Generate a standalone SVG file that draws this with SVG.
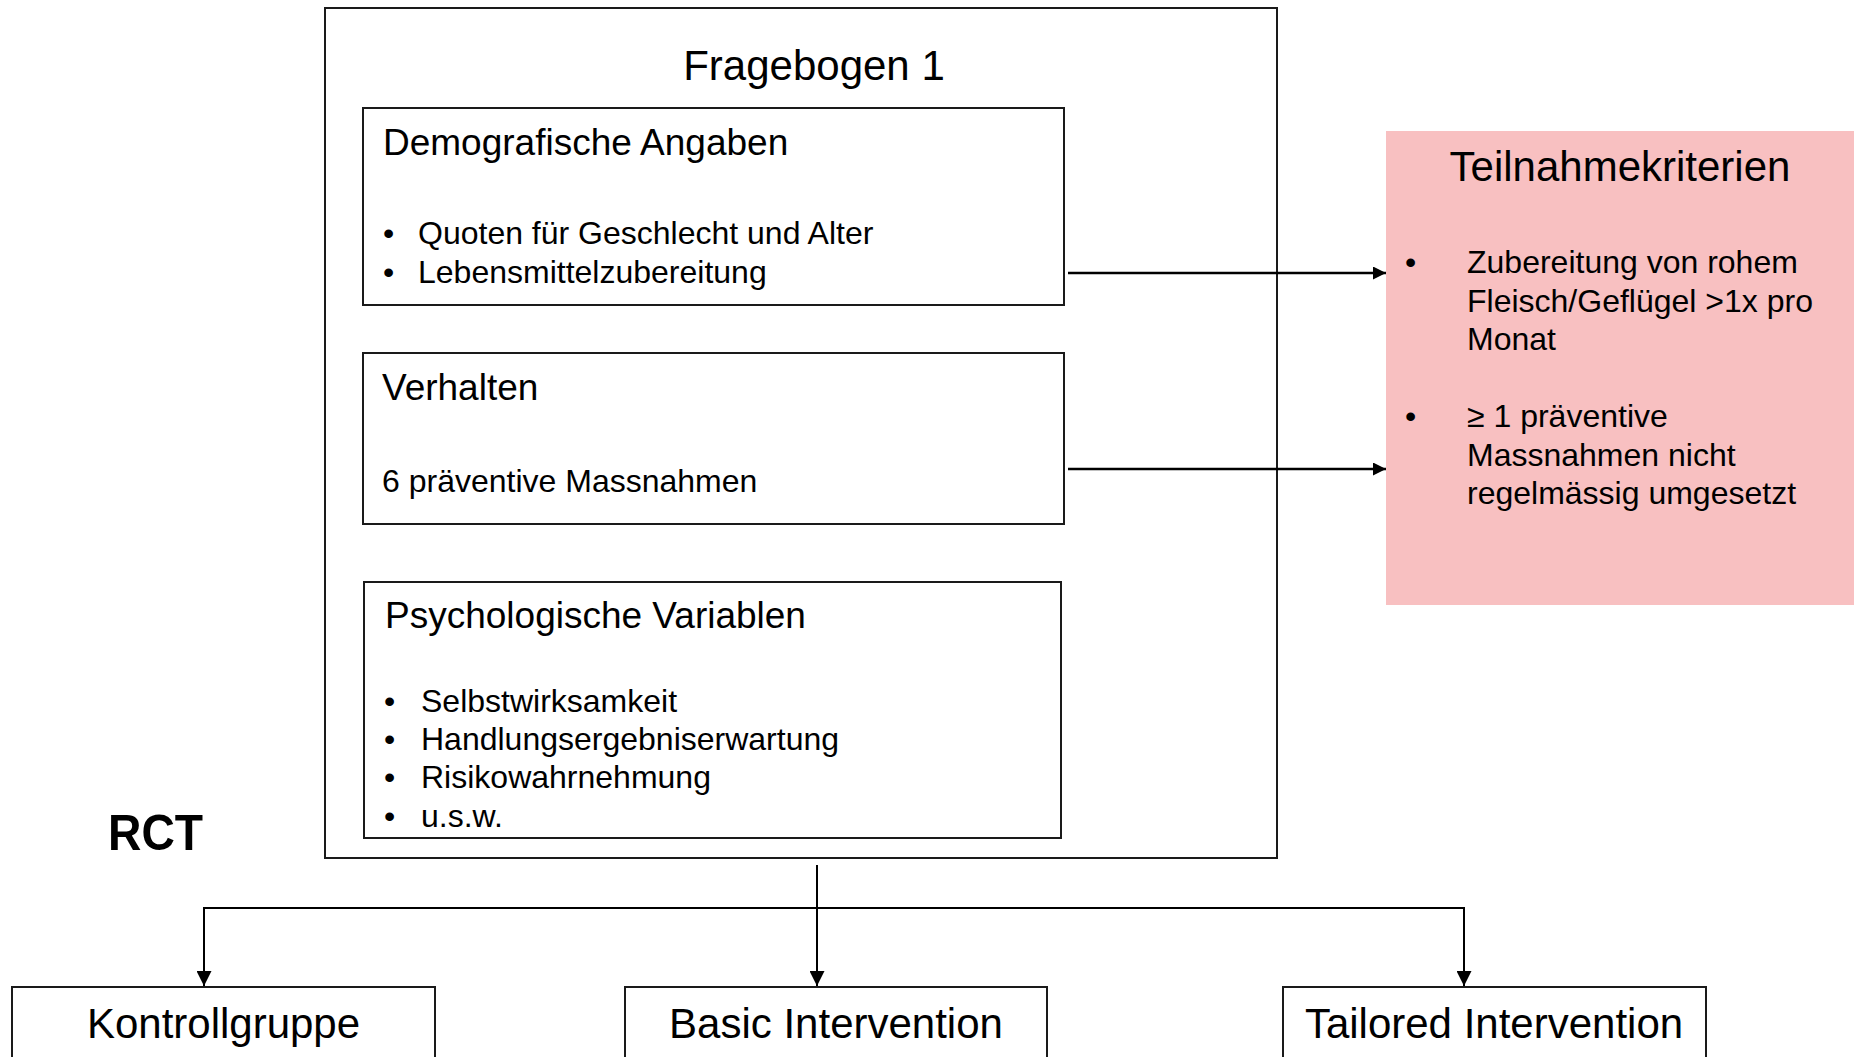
<svg xmlns="http://www.w3.org/2000/svg" width="1854" height="1057" viewBox="0 0 1854 1057">
<defs>
<style>
text{font-family:"Liberation Sans",Arial,sans-serif;fill:#000}
.box{fill:#fff;stroke:#1a1a1a;stroke-width:2}
.h42{font-size:42px}
.h37{font-size:37px}
.t32{font-size:32px}
.conn{fill:none;stroke:#000;stroke-width:2}
.conn2{fill:none;stroke:#000;stroke-width:2.6}
</style>
<marker id="arr" viewBox="0 0 10 10" refX="10" refY="5" markerWidth="6" markerHeight="5" markerUnits="strokeWidth" orient="auto">
<path d="M0,0 L10,5 L0,10 z" fill="#000"/>
</marker>
<marker id="arrs" viewBox="0 0 10 10" refX="10" refY="5" markerWidth="7.5" markerHeight="7.5" markerUnits="strokeWidth" orient="auto">
<path d="M0,0 L10,5 L0,10 z" fill="#000"/>
</marker>
</defs>
<rect width="1854" height="1057" fill="#fff"/>

<g id="fragebogen">
<rect class="box" x="325" y="8" width="952" height="850"/>
<text class="h42" x="814" y="80" text-anchor="middle">Fragebogen 1</text>
</g>

<g id="demografie">
<rect class="box" x="363" y="108" width="701" height="197"/>
<text class="h37" x="383" y="155">Demografische Angaben</text>
<text class="t32" x="383" y="244">•</text>
<text class="t32" x="418" y="244">Quoten für Geschlecht und Alter</text>
<text class="t32" x="383" y="283">•</text>
<text class="t32" x="418" y="283">Lebensmittelzubereitung</text>
</g>

<g id="verhalten">
<rect class="box" x="363" y="353" width="701" height="171"/>
<text class="h37" x="382" y="400">Verhalten</text>
<text class="t32" x="382" y="492">6 präventive Massnahmen</text>
</g>

<g id="psychologie">
<rect class="box" x="364" y="582" width="697" height="256"/>
<text class="h37" x="385" y="628">Psychologische Variablen</text>
<text class="t32" x="384" y="712">•</text>
<text class="t32" x="421" y="712">Selbstwirksamkeit</text>
<text class="t32" x="384" y="750">•</text>
<text class="t32" x="421" y="750">Handlungsergebniserwartung</text>
<text class="t32" x="384" y="788">•</text>
<text class="t32" x="421" y="788">Risikowahrnehmung</text>
<text class="t32" x="384" y="827">•</text>
<text class="t32" x="421" y="827">u.s.w.</text>
</g>

<g id="teilnahmekriterien">
<rect x="1386" y="131" width="468" height="474" fill="#F8C0C1"/>
<text class="h42" x="1620" y="181" text-anchor="middle">Teilnahmekriterien</text>
<text class="t32" x="1405" y="273">•</text>
<text class="t32" x="1467" y="273">Zubereitung von rohem</text>
<text class="t32" x="1467" y="312">Fleisch/Geflügel &gt;1x pro</text>
<text class="t32" x="1467" y="350">Monat</text>
<text class="t32" x="1405" y="427">•</text>
<text class="t32" x="1467" y="427">≥ 1 präventive</text>
<text class="t32" x="1467" y="466">Massnahmen nicht</text>
<text class="t32" x="1467" y="504">regelmässig umgesetzt</text>
</g>

<g id="rct">
<text x="108" y="850" font-size="50" font-weight="bold" textLength="95" lengthAdjust="spacingAndGlyphs">RCT</text>
</g>

<g id="kontrollgruppe">
<rect class="box" x="12" y="987" width="423" height="90"/>
<text class="h42" x="223.5" y="1038" text-anchor="middle">Kontrollgruppe</text>
</g>

<g id="basic">
<rect class="box" x="625" y="987" width="422" height="90"/>
<text class="h42" x="836" y="1038" text-anchor="middle">Basic Intervention</text>
</g>

<g id="tailored">
<rect class="box" x="1283" y="987" width="423" height="90"/>
<text class="h42" x="1494" y="1038" text-anchor="middle">Tailored Intervention</text>
</g>

<g id="connectors">
<line class="conn2" x1="1068" y1="273" x2="1386" y2="273" marker-end="url(#arr)"/>
<line class="conn2" x1="1068" y1="469" x2="1386" y2="469" marker-end="url(#arr)"/>
<line class="conn" x1="817" y1="865" x2="817" y2="986" marker-end="url(#arrs)"/>
<line class="conn" x1="204" y1="908" x2="1464" y2="908"/>
<line class="conn" x1="204" y1="907" x2="204" y2="986" marker-end="url(#arrs)"/>
<line class="conn" x1="1464" y1="907" x2="1464" y2="986" marker-end="url(#arrs)"/>
</g>
</svg>
